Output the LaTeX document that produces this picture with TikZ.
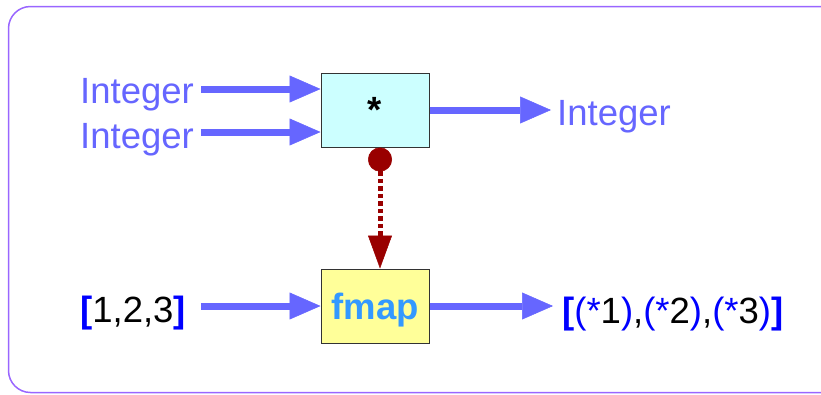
\documentclass[tikz,border=0pt]{standalone}
\usepackage{fontspec}
\setmainfont{Liberation Sans}
\usetikzlibrary{arrows.meta,calc}
\definecolor{arrowblue}{HTML}{6666FF}
\definecolor{framecol}{HTML}{9966FF}
\definecolor{pureblue}{HTML}{0000FF}
\definecolor{fmapblue}{HTML}{3399FF}
\definecolor{darkred}{HTML}{990000}
\definecolor{cyanfill}{HTML}{CCFFFF}
\definecolor{yellowfill}{HTML}{FFFF99}
\definecolor{boxline}{HTML}{333333}
\tikzset{
  big/.style={font=\fontsize{36.5}{40}\selectfont},
  lbl/.style={big, text=arrowblue, inner sep=0pt, anchor=base west},
  funcbox/.style={draw=boxline, line width=1pt, minimum width=108pt, minimum height=74pt, inner sep=0pt, big},
  ar/.style={draw=arrowblue, line width=7pt, -{Triangle[length=31pt,width=27pt,line width=0.5pt]}},
  dep/.style={draw=darkred, line width=5pt, dash pattern=on 4.5pt off 3pt,
    {Circle[length=24pt,line width=0.5pt]}-{Triangle[length=33pt,width=24pt,line width=0.5pt]}}
}
\begin{document}
\begin{tikzpicture}[x=1pt,y=-1pt]
\useasboundingbox (0,0) rectangle (821,394);
\draw[framecol, line width=1.5pt, rounded corners=22pt] (8.5,6.5) rectangle (860,392.5);

\node[funcbox, fill=cyanfill, font=\fontsize{36.5}{40}\selectfont\bfseries] (star) at (375,110) {*};
\node[funcbox, fill=yellowfill, text=fmapblue, text depth=0pt, font=\fontsize{36.5}{40}\selectfont\bfseries] (fmap) at (375,306) {fmap};

\node[lbl] (int1) at (80,103) {Integer};
\node[lbl] (int2) at (80,148) {Integer};
\node[lbl] (int3) at (557,125) {Integer};

\node[big, inner sep=0pt, anchor=base west] (lst) at (80,322)
  {\textcolor{pureblue}{\bfseries[}1,2,3\textcolor{pureblue}{\bfseries]}};
\node[big, inner sep=0pt, anchor=base west] (res) at (562,323)
  {\textcolor{pureblue}{\bfseries[}\textcolor{pureblue}{(*}1\textcolor{pureblue}{)},\textcolor{pureblue}{(*}2\textcolor{pureblue}{)},\textcolor{pureblue}{(*}3\textcolor{pureblue}{)}\textcolor{pureblue}{\bfseries]}};

\path (star.west) ++(0,-21) coordinate (s1) ++(0,43) coordinate (s2);
\draw[ar] ($(s1 -| int1.east)+(7,0)$) -- (s1);
\draw[ar] ($(s2 -| int2.east)+(7,0)$) -- (s2);
\draw[ar] (star.east) -- ($(star.east -| int3.west)+(-6,0)$);

\draw[ar] ($(fmap.west -| lst.east)+(15,0)$) -- (fmap.west);
\draw[ar] (fmap.east) -- ($(fmap.east -| res.west)+(-9,0)$);

\draw[dep] ([xshift=5pt]star.south) -- ([xshift=5pt]fmap.north);
\end{tikzpicture}
\end{document}
